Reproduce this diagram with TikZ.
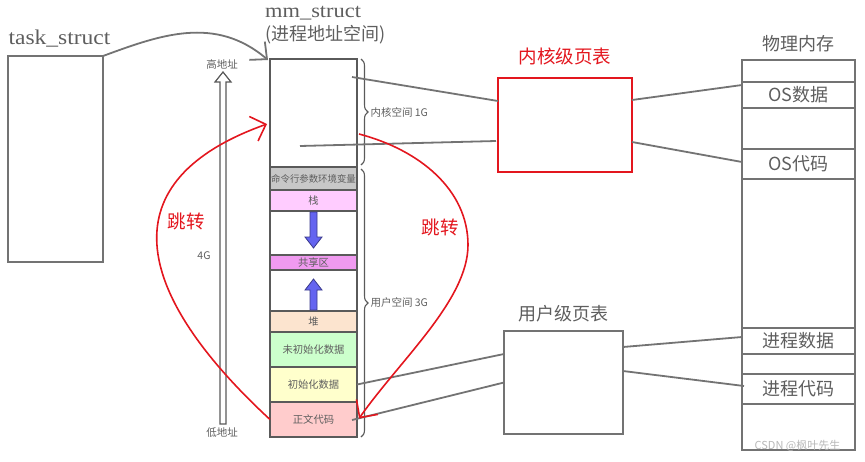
\documentclass[tikz,border=0pt]{standalone}
\usepackage{fontspec}
\setmainfont{Liberation Serif}
\newfontfamily\cjk{Noto Sans CJK SC}
\newfontfamily\latinwide{Liberation Serif}[FakeStretch=1.12]
\usetikzlibrary{arrows.meta,positioning,calc,decorations.pathreplacing}
\definecolor{lngrey}{HTML}{737373}
\definecolor{txgrey}{HTML}{5E5E5E}
\definecolor{segedge}{HTML}{5A5A5A}
\definecolor{jumpred}{HTML}{E3161E}
\definecolor{fatblue}{HTML}{6464F0}
\definecolor{fatedge}{HTML}{3A3A8C}
\definecolor{argsfill}{HTML}{C8C8C8}
\definecolor{stackfill}{HTML}{FFCCFF}
\definecolor{shmfill}{HTML}{F09AF0}
\definecolor{heapfill}{HTML}{FCE4CF}
\definecolor{bssfill}{HTML}{CCFFCC}
\definecolor{datafill}{HTML}{FFFFCC}
\definecolor{textfill}{HTML}{FFCCCC}
\tikzset{
  seg/.style       = {draw=segedge, line width=1.3pt, minimum width=87pt, inner sep=0pt,
                      outer sep=0pt, font=\cjk\fontsize{10.3}{11}\selectfont, text=txgrey},
  cell/.style      = {draw=lngrey, line width=1.6pt, minimum width=113pt, inner sep=0pt,
                      outer sep=0pt, font=\cjk\fontsize{18}{20}\selectfont, text=txgrey},
  pgtab/.style     = {draw=lngrey, line width=1.8pt, inner sep=0pt, outer sep=0pt},
  biglbl/.style    = {font=\cjk\fontsize{18}{20}\selectfont, text=txgrey, inner sep=1pt},
  latinlbl/.style  = {font=\latinwide\fontsize{21}{24}\selectfont, text=txgrey, inner sep=1pt},
  smalllbl/.style  = {font=\cjk\fontsize{10.5}{11}\selectfont, text=txgrey, inner sep=1pt},
  redlbl/.style    = {font=\cjk\fontsize{18.5}{20}\selectfont, text=jumpred, inner sep=1pt},
  wmark/.style     = {font=\cjk\fontsize{11}{12}\selectfont, text=black!28, inner sep=0pt},
  link/.style      = {draw=lngrey, line width=1.8pt},
  jump/.style      = {draw=jumpred, line width=1.6pt, -{Straight Barb[length=13pt,width=26pt]}},
  ptr/.style       = {draw=lngrey, line width=1.8pt, -{Straight Barb[length=13pt,width=24pt]}},
  addrbrace/.style = {draw=segedge, line width=1.1pt, decorate, decoration={brace, amplitude=7pt}},
  fatarr/.style    = {draw=fatedge, fill=fatblue, line width=0.8pt, line join=miter},
  hollowarr/.style = {draw=segedge, fill=white, line width=1.2pt, line join=miter},
}

\begin{document}
\begin{tikzpicture}[x=1pt, y=-1pt]
  \useasboundingbox (0,0) rectangle (865,461);
  % task_struct
  \node[pgtab, minimum width=95pt, minimum height=206pt, anchor=north west] (ts) at (8,56) {};
  \node[latinlbl, above=8pt of ts, xshift=4pt] (tslbl) {task\_struct};
  % address space
  \node[seg, minimum height=108pt, anchor=north west] (kern) at (270,59) {};
  \node[seg, minimum height=23pt, fill=argsfill, below=0pt of kern, font=\cjk\fontsize{9.4}{10}\selectfont] (args) {命令行参数环境变量};
  \node[seg, minimum height=21pt, fill=stackfill, below=0pt of args] (stack) {栈};
  \node[seg, minimum height=44pt, below=0pt of stack] (gapa) {};
  \node[seg, minimum height=15pt, fill=shmfill, below=0pt of gapa] (shm) {共享区};
  \node[seg, minimum height=41pt, below=0pt of shm] (gapb) {};
  \node[seg, minimum height=21pt, fill=heapfill, below=0pt of gapb] (heap) {堆};
  \node[seg, minimum height=35pt, fill=bssfill, below=0pt of heap] (bss) {未初始化数据};
  \node[seg, minimum height=35pt, fill=datafill, below=0pt of bss] (data) {初始化数据};
  \node[seg, minimum height=35pt, fill=textfill, below=0pt of data] (text) {正文代码};
  \coordinate (dtail) at ($(stack.south)+(0,1)$);
  \coordinate (dtip) at ($(stack.south)+(0,37)$);
  \coordinate (utail) at ($(heap.north)+(0,-1)$);
  \coordinate (utip) at ($(heap.north)+(0,-32)$);
  \draw[fatarr] (dtail) ++(-3.5,0) -- ++(0,25) -- ++(-5,0) -- (dtip) -- ++(8.5,-11) -- ++(-5,0) -- ++(0,-25) -- cycle;
  \draw[fatarr] (utail) ++(-3.5,0) -- ++(0,-20) -- ++(-5,0) -- (utip) -- ++(8.5,11) -- ++(-5,0) -- ++(0,20) -- cycle;
  \node[biglbl, anchor=west] (mmsub) at ($(kern.north west)+(-6,-24)$) {(进程地址空间)};
  \node[latinlbl, font=\latinwide\fontsize{20}{22}\selectfont, anchor=west] (mmlbl) at ($(kern.north west)+(-6,-46)$) {mm\_struct};
  \draw[addrbrace] ($(kern.north east)+(4,0)$) -- ($(kern.south east)+(4,-2)$)
    node[midway, right=8pt, smalllbl] (klbl) {内核空间 1G};
  \draw[addrbrace] ($(args.north east)+(4,2)$) -- ($(text.south east)+(4,0)$)
    node[midway, right=8pt, smalllbl] (ulbl) {用户空间 3G};
  % address range
  \node[smalllbl] (hi) at (222,64) {高地址};
  \node[smalllbl] (lo) at (222,433) {低地址};
  \node[smalllbl] (four) at (204,256) {4G};
  \coordinate (htip) at (223,72);
  \coordinate (htail) at (223,424);
  \draw[hollowarr] (htail) ++(-3,0) -- ++(0,-342) -- ++(-5,0) -- (htip) -- ++(8,10) -- ++(-5,0) -- ++(0,342) -- cycle;
  % page tables
  \node[pgtab, draw=jumpred, minimum width=134pt, minimum height=94pt, anchor=north west] (ktab) at (498,78) {};
  \node[redlbl, above=12pt of ktab] (ktlbl) {内核级页表};
  \node[pgtab, minimum width=119pt, minimum height=103pt, anchor=north west] (utab) at (504,331) {};
  \node[biglbl, above=8pt of utab] (utlbl) {用户级页表};
  % physical memory
  \node[cell, minimum height=22pt, anchor=north west] (pa) at (742,60) {};
  \node[cell, minimum height=26pt, below=0pt of pa] (osdata) {OS数据};
  \node[cell, minimum height=41pt, below=0pt of osdata] (pb) {};
  \node[cell, minimum height=30pt, below=0pt of pb] (oscode) {OS代码};
  \node[cell, minimum height=149pt, below=0pt of oscode] (pc) {};
  \node[cell, minimum height=26pt, below=0pt of pc] (pdata) {进程数据};
  \node[cell, minimum height=20pt, below=0pt of pdata] (pd) {};
  \node[cell, minimum height=30pt, below=0pt of pd] (pcode) {进程代码};
  \node[cell, minimum height=46pt, below=0pt of pcode] (pe) {};
  \node[biglbl, above=7pt of pa] (plbl) {物理内存};
  \node[wmark] (wm) at ($(pe.south)+(-1,-4)$) {CSDN @枫叶先生};
  % mappings
  \draw[link] ($(kern.north east)+(-5,18)$) -- ($(ktab.north west)+(0,23)$);
  \draw[link] ($(kern.south west)+(30,-21)$) -- ($(ktab.west)+(-2,16)$);
  \draw[link] ($(ktab.east)+(0,-25)$) -- ($(osdata.north west)+(0,3)$);
  \draw[link] ($(ktab.east)+(0,17)$) -- ($(oscode.west)+(0,-2)$);
  \draw[link] (data.east) -- ($(utab.west)+(0,-28.5)$);
  \draw[link] ($(text.east)+(-5,0.5)$) -- (utab.west);
  \draw[link] ($(utab.east)+(0,-35.5)$) -- ($(pdata.west)+(0,-4)$);
  \draw[link] ($(utab.east)+(0,-11.5)$) -- ($(pcode.west)+(2,-3)$);
  \draw[ptr] (ts.north east) .. controls (160,35) and (215,15) .. ($(kern.north west)+(-2,1)$);
  % jumps
  \draw[jump] (text.west) .. controls (130,290) and (110,180) .. ($(kern.west)+(-3,11)$);
  \draw[jump] ($(kern.east)+(2,21)$) .. controls (420,150) and (468,190) .. (468,245)
    .. controls (468,300) and (400,360) .. ($(text.east)+(2,-1)$);
  \node[redlbl] (jl) at (186,221) {跳转};
  \node[redlbl] (jr) at (440,227) {跳转};
\end{tikzpicture}
\end{document}
